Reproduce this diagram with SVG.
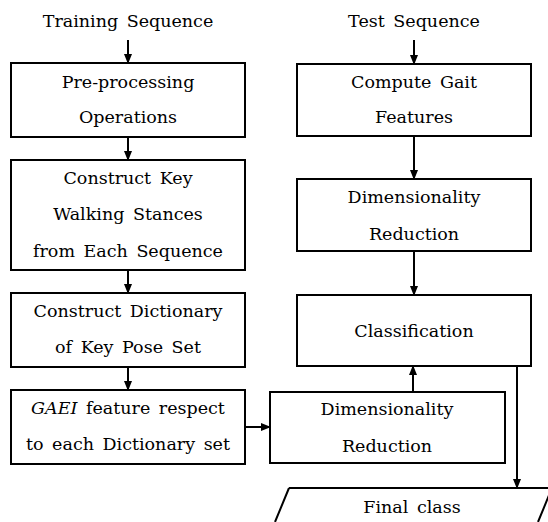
<svg xmlns="http://www.w3.org/2000/svg" width="548" height="522" viewBox="0 0 548 522">
<defs>
<marker id="ah" markerWidth="10" markerHeight="10" refX="9" refY="5" orient="auto" markerUnits="userSpaceOnUse">
<path d="M0,1 L10,5 L0,9 Z" fill="#000"/>
</marker>
<style>
.b{fill:#fff;stroke:#000;stroke-width:2}
.t{font-size:17.5px;word-spacing:3px;text-anchor:middle;fill:#000}
.c{fill:none;stroke:#000;stroke-width:2;marker-end:url(#ah)}
</style>
</defs>
<rect width="548" height="522" fill="#fff"/>
<g id="connectors">
<line class="c" x1="128" y1="40" x2="128" y2="63"/>
<line class="c" x1="128" y1="137" x2="128" y2="160"/>
<line class="c" x1="128" y1="270" x2="128" y2="293"/>
<line class="c" x1="128" y1="367" x2="128" y2="390"/>
<line class="c" x1="245" y1="427" x2="270" y2="427"/>
<line class="c" x1="414" y1="40" x2="414" y2="64"/>
<line class="c" x1="414" y1="136" x2="414" y2="179"/>
<line class="c" x1="414" y1="251" x2="414" y2="295"/>
<line class="c" x1="413" y1="392" x2="413" y2="366"/>
<line class="c" x1="517" y1="366" x2="517" y2="488"/>
</g>
<g font-family="'DejaVu Serif', 'Liberation Serif', serif">
<g id="training"><text class="t" x="128" y="27">Training Sequence</text></g>
<g id="test"><text class="t" x="414" y="27">Test Sequence</text></g>
<g id="preproc"><rect class="b" x="11" y="63" width="234" height="74"/>
<text class="t" x="128" y="88">Pre-processing</text><text class="t" x="128" y="123">Operations</text></g>
<g id="keystances"><rect class="b" x="11" y="160" width="234" height="110"/>
<text class="t" x="128" y="184">Construct Key</text><text class="t" x="128" y="220">Walking Stances</text><text class="t" x="128" y="257">from Each Sequence</text></g>
<g id="dictionary"><rect class="b" x="11" y="293" width="234" height="74"/>
<text class="t" x="128" y="317">Construct Dictionary</text><text class="t" x="128" y="353">of Key Pose Set</text></g>
<g id="gaei"><rect class="b" x="11" y="390" width="234" height="74"/>
<text class="t" x="128" y="414"><tspan font-style="italic">GAEI</tspan> feature respect</text><text class="t" x="128" y="450">to each Dictionary set</text></g>
<g id="gait"><rect class="b" x="297" y="64" width="234" height="72"/>
<text class="t" x="414" y="88">Compute Gait</text><text class="t" x="414" y="123">Features</text></g>
<g id="dr1"><rect class="b" x="297" y="179" width="234" height="72"/>
<text class="t" x="414" y="203">Dimensionality</text><text class="t" x="414" y="240">Reduction</text></g>
<g id="classification"><rect class="b" x="297" y="295" width="234" height="71"/>
<text class="t" x="414" y="337">Classification</text></g>
<g id="dr2"><rect class="b" x="270" y="392" width="235" height="71"/>
<text class="t" x="387" y="415">Dimensionality</text><text class="t" x="387" y="452">Reduction</text></g>
<g id="final"><path d="M289,488 L552,488 L538,522 M289,488 L275,522" fill="none" stroke="#000" stroke-width="2"/>
<text class="t" x="412" y="513">Final class</text></g>
</g>
</svg>
